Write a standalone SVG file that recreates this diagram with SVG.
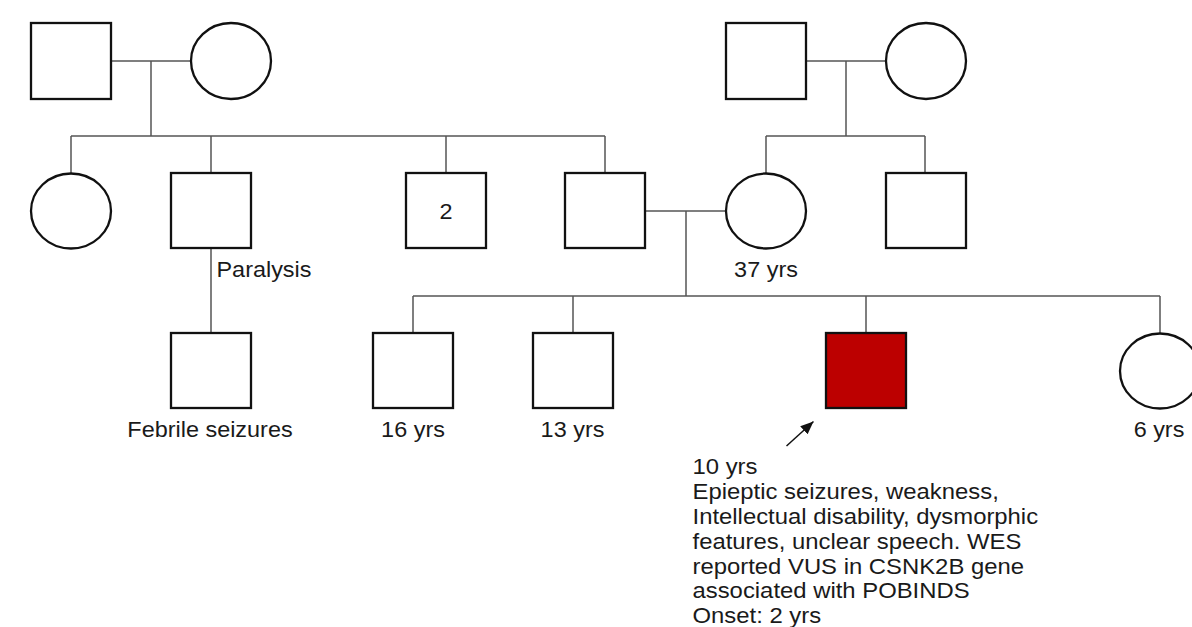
<svg xmlns="http://www.w3.org/2000/svg" width="1192" height="627" viewBox="0 0 1192 627">
<style>
.n{fill:#fff;stroke:#111;stroke-width:2.3}
.a{fill:#bc0000;stroke:#111;stroke-width:2.3}
.c{fill:none;stroke:#555;stroke-width:1.5}
.t{font-family:"Liberation Sans",Arial,sans-serif;font-size:21.5px;fill:#1a1a1a}
.m{text-anchor:middle}
</style>
<defs>
<marker id="ah" markerWidth="13" markerHeight="12" refX="13" refY="5.5" orient="auto" markerUnits="userSpaceOnUse" viewBox="0 0 13 11">
<path d="M0,0 L13,5.5 L0,11 Z" fill="#111"/>
</marker>
</defs>
<rect width="1192" height="627" fill="#fff"/>
<g id="connectors">
<path class="c" d="M111,61 H191 M151,61 V136 M71,136 H605 M71,136 V173 M211,136 V173 M446,136 V173 M605,136 V173"/>
<path class="c" d="M806,61 H886 M846,61 V136 M766,136 H925 M766,136 V173 M925,136 V173"/>
<path class="c" d="M645,211 H726 M686,211 V296 M413,296 H1160 M413,296 V333 M573,296 V333 M866,296 V333 M1160,296 V333"/>
<path class="c" d="M211,248 V333"/>
<line x1="786.5" y1="446" x2="813.5" y2="421.5" stroke="#111" stroke-width="1.5" marker-end="url(#ah)"/>
</g>
<g id="gf1"><rect class="n" x="31" y="23" width="80" height="76"/></g>
<g id="gm1"><ellipse class="n" cx="231" cy="61" rx="40" ry="38"/></g>
<g id="gf2"><rect class="n" x="726" y="23" width="80" height="76"/></g>
<g id="gm2"><ellipse class="n" cx="926" cy="61" rx="40" ry="38"/></g>
<g id="aunt1"><ellipse class="n" cx="71" cy="211" rx="40" ry="37.5"/></g>
<g id="uncle1"><rect class="n" x="171" y="173" width="80" height="75"/>
<text class="t" transform="translate(216.5,276.5) scale(1.09,1)">Paralysis</text></g>
<g id="uncles2"><rect class="n" x="406" y="173" width="80" height="75"/>
<text class="t m" transform="translate(446,219) scale(1.09,1)">2</text></g>
<g id="father"><rect class="n" x="565" y="173" width="80" height="75"/></g>
<g id="mother"><ellipse class="n" cx="766" cy="211" rx="40" ry="37.5"/>
<text class="t m" transform="translate(766,276.5) scale(1.09,1)">37 yrs</text></g>
<g id="muncle"><rect class="n" x="886" y="173" width="80" height="75"/></g>
<g id="cousin"><rect class="n" x="171" y="333" width="80" height="75"/>
<text class="t m" transform="translate(210,437.3) scale(1.09,1)">Febrile seizures</text></g>
<g id="sib16"><rect class="n" x="373" y="333" width="80" height="75"/>
<text class="t m" transform="translate(413,437.3) scale(1.09,1)">16 yrs</text></g>
<g id="sib13"><rect class="n" x="533" y="333" width="80" height="75"/>
<text class="t m" transform="translate(572.5,437.3) scale(1.09,1)">13 yrs</text></g>
<g id="proband"><rect class="a" x="826" y="333" width="80" height="75"/>
<text class="t" transform="translate(692.5,0) scale(1.11,1)">
<tspan x="0" y="474">10 yrs</tspan>
<tspan x="0" y="498.9">Epieptic seizures, weakness,</tspan>
<tspan x="0" y="523.8">Intellectual disability, dysmorphic</tspan>
<tspan x="0" y="548.7">features, unclear speech. WES</tspan>
<tspan x="0" y="573.6">reported VUS in CSNK2B gene</tspan>
<tspan x="0" y="598.5">associated with POBINDS</tspan>
<tspan x="0" y="623.4">Onset: 2 yrs</tspan>
</text></g>
<g id="sis6"><ellipse class="n" cx="1160" cy="371" rx="40" ry="37.5"/>
<text class="t m" transform="translate(1159,437.3) scale(1.09,1)">6 yrs</text></g>
</svg>
